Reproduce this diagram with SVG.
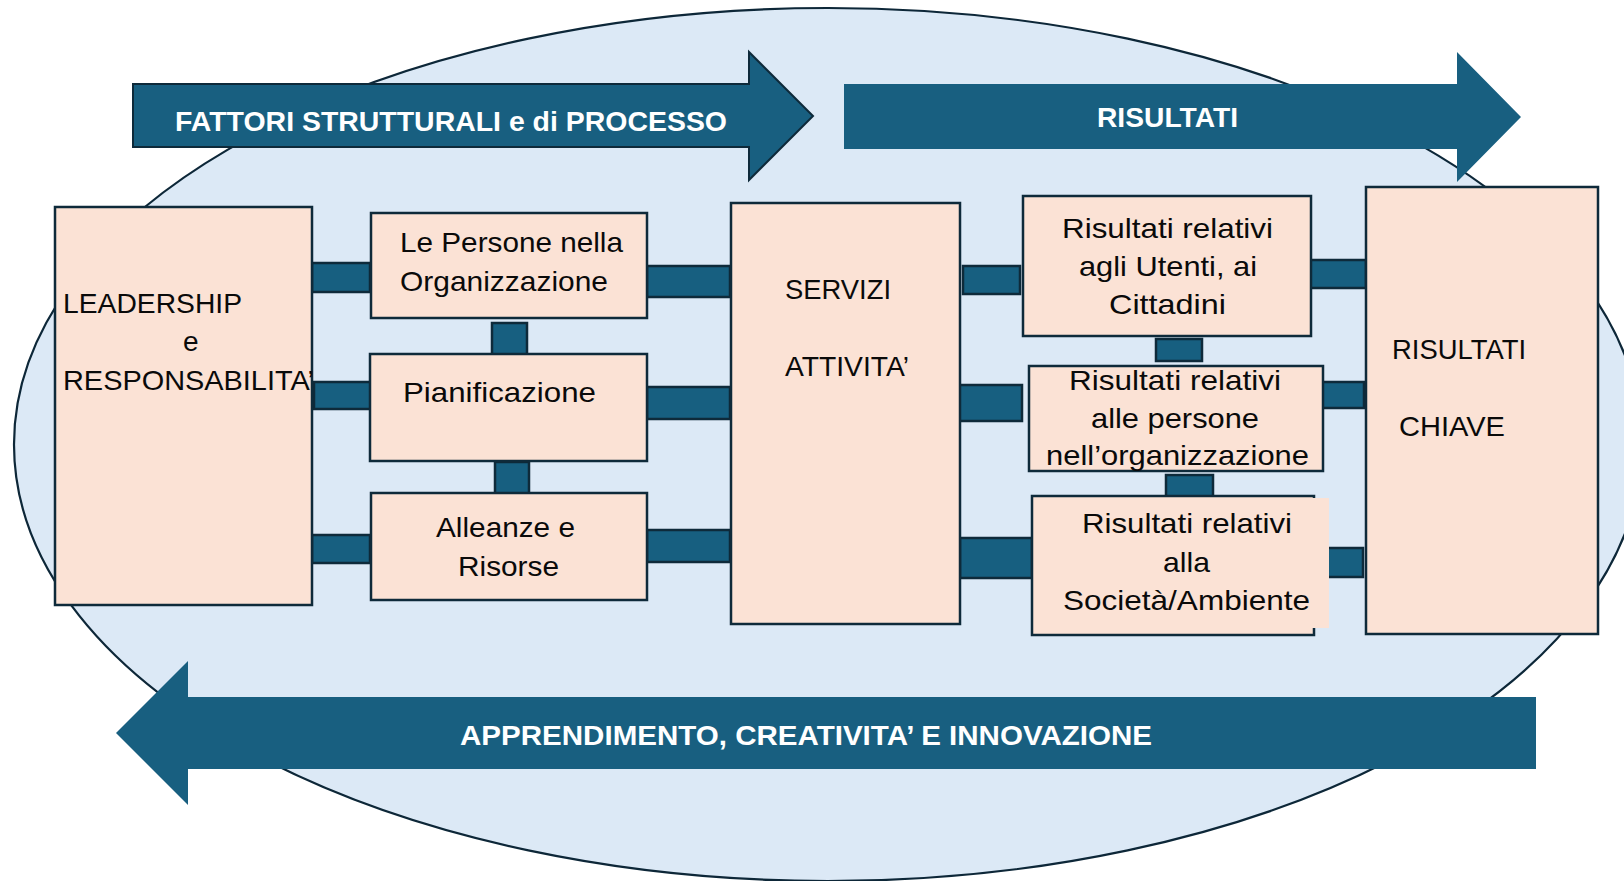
<svg xmlns="http://www.w3.org/2000/svg" width="1624" height="881" viewBox="0 0 1624 881">
<style>
.box{fill:#FBE2D5;stroke:#0E2A3A;stroke-width:2.5}
.con{fill:#175F80;stroke:#0E2A3A;stroke-width:2.5}
.arr{fill:#185F80}
.t{font-family:"Liberation Sans",Arial,sans-serif;font-size:28px;fill:#0a0a0a}
.bt{font-family:"Liberation Sans",Arial,sans-serif;font-size:28px;font-weight:bold;fill:#ffffff}
</style>
<rect x="0" y="0" width="1624" height="881" fill="#ffffff"/>
<ellipse id="background" cx="828" cy="444.5" rx="814" ry="436.5" fill="#DCE9F6" stroke="#0D2738" stroke-width="2.2"/>

<g id="arrow-fattori">
<polygon class="arr" points="133,84 749,84 749,52 813,116 749,180 749,147 133,147" stroke="#0E2A3A" stroke-width="2"/>
<text class="bt" x="175" y="131" textLength="552" lengthAdjust="spacingAndGlyphs">FATTORI STRUTTURALI e di PROCESSO</text>
</g>
<g id="arrow-risultati">
<polygon class="arr" points="844,84 1457,84 1457,52 1521,117 1457,182 1457,149 844,149"/>
<text class="bt" x="1097" y="127" textLength="141" lengthAdjust="spacingAndGlyphs">RISULTATI</text>
</g>
<g id="arrow-apprendimento">
<polygon class="arr" points="1536,697 188,697 188,661 116,733 188,805 188,769 1536,769"/>
<text class="bt" x="460" y="745" textLength="692" lengthAdjust="spacingAndGlyphs">APPRENDIMENTO, CREATIVITA’ E INNOVAZIONE</text>
</g>

<g id="connectors">
<rect class="con" x="312" y="263" width="58" height="29"/>
<rect class="con" x="314" y="382" width="57" height="27"/>
<rect class="con" x="312" y="535" width="58" height="28"/>
<rect class="con" x="647" y="266" width="83" height="31"/>
<rect class="con" x="647" y="387" width="83" height="32"/>
<rect class="con" x="647" y="530" width="83" height="32"/>
<rect class="con" x="492" y="323" width="35" height="34"/>
<rect class="con" x="495" y="462" width="34" height="37"/>
<rect class="con" x="963" y="266" width="57" height="28"/>
<rect class="con" x="957" y="385" width="65" height="36"/>
<rect class="con" x="960" y="538" width="72" height="40"/>
<rect class="con" x="1309" y="260" width="57" height="28"/>
<rect class="con" x="1314" y="382" width="50" height="26"/>
<rect class="con" x="1316" y="548" width="47" height="29"/>
<rect class="con" x="1156" y="339" width="46" height="22"/>
<rect class="con" x="1166" y="475" width="47" height="23"/>
</g>

<g id="leadership">
<rect class="box" x="55" y="207" width="257" height="398"/>
<text class="t" x="63" y="313" textLength="179" lengthAdjust="spacingAndGlyphs">LEADERSHIP</text>
<text class="t" x="183" y="351">e</text>
<text class="t" x="63" y="390" textLength="251" lengthAdjust="spacingAndGlyphs">RESPONSABILITA’</text>
</g>
<g id="persone">
<rect class="box" x="371" y="213" width="276" height="105"/>
<text class="t" x="400" y="252" textLength="223" lengthAdjust="spacingAndGlyphs">Le Persone nella</text>
<text class="t" x="400" y="291" textLength="208" lengthAdjust="spacingAndGlyphs">Organizzazione</text>
</g>
<g id="pianificazione">
<rect class="box" x="370" y="354" width="277" height="107"/>
<text class="t" x="403" y="402" textLength="193" lengthAdjust="spacingAndGlyphs">Pianificazione</text>
</g>
<g id="alleanze">
<rect class="box" x="371" y="493" width="276" height="107"/>
<text class="t" x="436" y="537" textLength="139" lengthAdjust="spacingAndGlyphs">Alleanze e</text>
<text class="t" x="458" y="576" textLength="101" lengthAdjust="spacingAndGlyphs">Risorse</text>
</g>
<g id="servizi">
<rect class="box" x="731" y="203" width="229" height="421"/>
<text class="t" x="785" y="299" textLength="106" lengthAdjust="spacingAndGlyphs">SERVIZI</text>
<text class="t" x="785" y="376" textLength="124" lengthAdjust="spacingAndGlyphs">ATTIVITA’</text>
</g>
<g id="risultati-utenti">
<rect class="box" x="1023" y="196" width="288" height="140"/>
<text class="t" x="1062" y="238" textLength="211" lengthAdjust="spacingAndGlyphs">Risultati relativi</text>
<text class="t" x="1079" y="276" textLength="178" lengthAdjust="spacingAndGlyphs">agli Utenti, ai</text>
<text class="t" x="1109" y="314" textLength="117" lengthAdjust="spacingAndGlyphs">Cittadini</text>
</g>
<g id="risultati-persone">
<rect class="box" x="1029" y="366" width="294" height="105"/>
<text class="t" x="1069" y="390" textLength="212" lengthAdjust="spacingAndGlyphs">Risultati relativi</text>
<text class="t" x="1091" y="428" textLength="168" lengthAdjust="spacingAndGlyphs">alle persone</text>
<text class="t" x="1046" y="465" textLength="263" lengthAdjust="spacingAndGlyphs">nell’organizzazione</text>
</g>
<g id="risultati-societa">
<rect class="box" x="1032" y="496" width="282" height="139"/>
<rect x="1044" y="498" width="285" height="130" fill="#FBE2D5"/>
<text class="t" x="1082" y="533" textLength="210" lengthAdjust="spacingAndGlyphs">Risultati relativi</text>
<text class="t" x="1163" y="572" textLength="47" lengthAdjust="spacingAndGlyphs">alla</text>
<text class="t" x="1063" y="610" textLength="247" lengthAdjust="spacingAndGlyphs">Società/Ambiente</text>
</g>
<g id="risultati-chiave">
<rect class="box" x="1366" y="187" width="232" height="447"/>
<text class="t" x="1392" y="359" textLength="134" lengthAdjust="spacingAndGlyphs">RISULTATI</text>
<text class="t" x="1399" y="436" textLength="106" lengthAdjust="spacingAndGlyphs">CHIAVE</text>
</g>
</svg>
